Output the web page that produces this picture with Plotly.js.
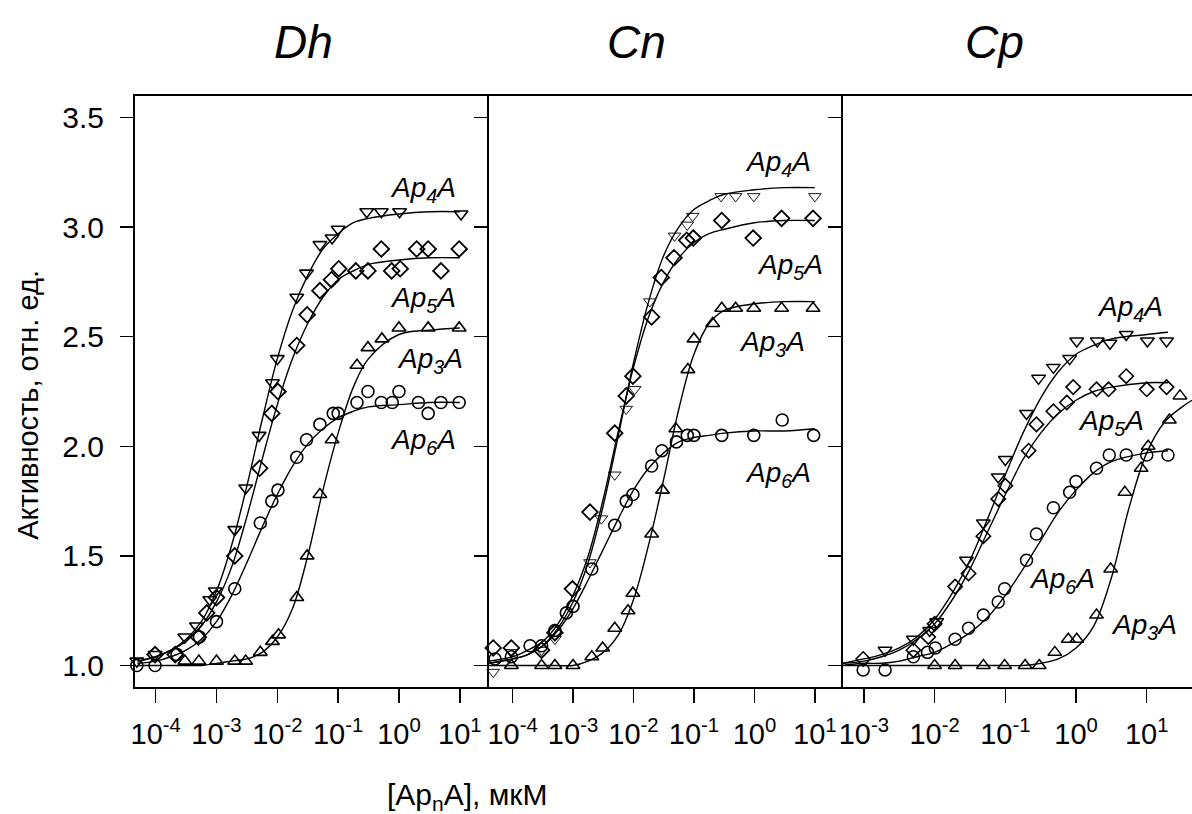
<!DOCTYPE html>
<html>
<head>
<meta charset="utf-8">
<script src="https://cdn.plot.ly/plotly-3.0.1.min.js"></script>
<style>html,body{margin:0;padding:0;background:#fff;}#chart{width:1192px;height:814px;}</style>
</head>
<body>
<div id="chart"></div>
<script>
// ---- Data (log10 of concentration in µM, activity in rel. units) ----
// Panel Dh
const dh_ap4_lg = [-4.31,-4.01,-3.52,-3.33,-3.11,-3.02,-2.70,-2.52,-2.30,-2.08,-2.00,-1.68,-1.52,-1.30,-1.10,-1.00,-0.53,-0.29,0.01,1.02];
const dh_ap4_y  = [1.02,1.05,1.13,1.18,1.30,1.34,1.62,1.81,2.05,2.29,2.40,2.68,2.79,2.92,2.95,2.99,3.07,3.07,3.07,3.06];
const dh_ap5_lg = [-4.01,-3.68,-3.30,-3.16,-3.00,-2.70,-2.29,-2.09,-1.99,-1.68,-1.51,-1.30,-1.11,-0.99,-0.71,-0.51,-0.29,-0.12,0.02,0.29,0.48,0.69,0.99];
const dh_ap5_y  = [1.05,1.05,1.13,1.24,1.31,1.50,1.90,2.15,2.25,2.46,2.60,2.71,2.76,2.81,2.80,2.80,2.90,2.80,2.81,2.90,2.90,2.80,2.90];
const dh_ap3_lg = [-3.52,-3.29,-3.00,-2.70,-2.52,-2.28,-2.08,-1.98,-1.68,-1.51,-1.30,-1.10,-0.69,-0.51,-0.28,0.00,0.48,0.99];
const dh_ap3_y  = [1.02,1.02,1.02,1.02,1.02,1.06,1.11,1.14,1.31,1.50,1.78,2.03,2.37,2.45,2.49,2.54,2.54,2.54];
const dh_ap6_lg = [-4.31,-4.01,-3.65,-3.28,-3.00,-2.70,-2.28,-2.09,-1.99,-1.68,-1.52,-1.30,-1.08,-1.00,-0.69,-0.51,-0.29,-0.11,0.00,0.32,0.48,0.69,0.99];
const dh_ap6_y  = [1.00,1.00,1.05,1.13,1.20,1.35,1.65,1.75,1.80,1.95,2.03,2.10,2.15,2.15,2.20,2.25,2.20,2.20,2.25,2.20,2.15,2.20,2.20];
// fitted curves, Dh
const dh_fit_lg   = [-4.3,-4,-3.75,-3.5,-3.25,-3,-2.75,-2.5,-2.25,-2,-1.75,-1.5,-1.25,-1,-0.75,-0.5,0,0.5,1];
const dh_fit_ap4  = [1.02,1.04,1.07,1.12,1.20,1.34,1.55,1.82,2.12,2.40,2.62,2.78,2.90,2.97,3.02,3.04,3.06,3.07,3.07];
const dh_fit_ap5  = [1.02,1.04,1.07,1.11,1.18,1.29,1.45,1.68,1.94,2.19,2.40,2.56,2.68,2.76,2.80,2.83,2.85,2.86,2.86];
const dh_fit_ap3  = [1.00,1.00,1.00,1.00,1.00,1.01,1.02,1.03,1.06,1.13,1.26,1.50,1.80,2.06,2.27,2.40,2.51,2.53,2.54];
const dh_fit_ap6  = [1.01,1.02,1.04,1.07,1.12,1.20,1.32,1.47,1.63,1.78,1.91,2.01,2.08,2.13,2.16,2.18,2.19,2.20,2.20];

// Panel Cn
const cn_ap4_lg = [-4.32,-4.02,-3.52,-3.30,-2.72,-2.53,-2.31,-2.12,-1.98,-1.73,-1.32,-1.11,-1.02,-0.55,-0.31,-0.01,1.00];
const cn_ap4_y  = [0.97,1.06,1.07,1.12,1.47,1.67,1.87,2.17,2.26,2.66,2.96,3.01,3.05,3.14,3.14,3.14,3.14];
const cn_ap5_lg = [-4.32,-4.02,-3.52,-3.30,-3.01,-2.72,-2.31,-2.12,-2.01,-1.70,-1.54,-1.33,-1.12,-1.01,-0.54,-0.02,0.45,0.97];
const cn_ap5_y  = [1.08,1.08,1.07,1.15,1.35,1.70,2.06,2.23,2.32,2.59,2.77,2.86,2.94,2.95,3.03,2.95,3.04,3.04];
const cn_ap3_lg = [-4.02,-3.52,-3.30,-3.00,-2.69,-2.51,-2.31,-2.09,-2.01,-1.70,-1.52,-1.30,-1.10,-1.00,-0.69,-0.54,-0.31,-0.01,0.45,0.97];
const cn_ap3_y  = [1.00,1.00,1.00,1.00,1.04,1.08,1.17,1.25,1.33,1.60,1.80,2.08,2.35,2.49,2.56,2.63,2.63,2.63,2.63,2.63];
const cn_ap6_lg = [-4.29,-4.02,-3.71,-3.52,-3.30,-3.11,-3.00,-2.69,-2.31,-2.12,-2.01,-1.70,-1.53,-1.29,-1.11,-1.00,-0.54,-0.01,0.46,0.98];
const cn_ap6_y  = [1.03,1.04,1.09,1.09,1.16,1.24,1.27,1.44,1.64,1.75,1.78,1.91,1.98,2.02,2.05,2.05,2.05,2.05,2.12,2.05];
// fitted curves, Cn
const cn_fit_lg   = [-4.4,-4,-3.75,-3.5,-3.25,-3,-2.75,-2.5,-2.25,-2,-1.75,-1.5,-1.25,-1,-0.75,-0.5,0,0.5,1];
const cn_fit_ap4  = [1.01,1.03,1.05,1.09,1.17,1.29,1.47,1.73,2.05,2.38,2.66,2.87,3.00,3.08,3.12,3.15,3.17,3.18,3.18];
const cn_fit_ap5  = [1.02,1.04,1.07,1.11,1.19,1.32,1.50,1.76,2.07,2.36,2.59,2.75,2.86,2.93,2.97,2.99,3.02,3.03,3.03];
const cn_fit_ap3  = [1.00,1.00,1.00,1.00,1.00,1.00,1.02,1.06,1.14,1.30,1.55,1.85,2.17,2.42,2.56,2.62,2.65,2.66,2.66];
const cn_fit_ap6  = [1.01,1.03,1.05,1.09,1.16,1.26,1.39,1.53,1.67,1.80,1.90,1.97,2.02,2.04,2.05,2.06,2.07,2.07,2.08];

// Panel Cp
const cp_ap4_lg = [-2.70,-2.30,-2.07,-1.97,-1.55,-1.31,-1.10,-1.00,-0.70,-0.53,-0.32,-0.09,0.01,0.30,0.48,0.71,1.01,1.28];
const cp_ap4_y  = [1.07,1.12,1.16,1.20,1.48,1.65,1.86,1.94,2.15,2.31,2.36,2.40,2.48,2.48,2.47,2.51,2.48,2.48];
const cp_ap5_lg = [-3.01,-2.30,-2.09,-2.00,-1.71,-1.52,-1.31,-1.10,-1.00,-0.67,-0.56,-0.32,-0.13,-0.04,0.29,0.46,0.71,1.00,1.28];
const cp_ap5_y  = [1.03,1.07,1.13,1.19,1.36,1.42,1.59,1.76,1.82,1.98,2.10,2.16,2.20,2.27,2.26,2.26,2.32,2.26,2.27];
const cp_ap6_lg = [-3.01,-2.70,-2.30,-2.10,-1.99,-1.71,-1.52,-1.31,-1.10,-1.01,-0.70,-0.56,-0.32,-0.09,0.00,0.29,0.47,0.71,1.00,1.30];
const cp_ap6_y  = [0.98,0.98,1.04,1.06,1.08,1.12,1.17,1.23,1.29,1.35,1.48,1.60,1.72,1.79,1.84,1.90,1.96,1.96,1.96,1.96];
const cp_ap3_lg = [-2.00,-1.71,-1.31,-1.01,-0.72,-0.52,-0.30,-0.11,0.01,0.29,0.49,0.69,0.92,1.02,1.32,1.47];
const cp_ap3_y  = [1.00,1.00,1.00,1.00,1.00,1.00,1.06,1.12,1.12,1.23,1.44,1.79,1.90,2.00,2.12,2.23];
// fitted curves, Cp
const cp_fit_lg   = [-3.3,-3,-2.75,-2.5,-2.25,-2,-1.75,-1.5,-1.25,-1,-0.75,-0.5,-0.25,0,0.25,0.5,1,1.3];
const cp_fit_ap4  = [1.01,1.03,1.05,1.08,1.13,1.21,1.33,1.48,1.67,1.87,2.06,2.22,2.34,2.42,2.46,2.49,2.51,2.52];
const cp_fit_ap5  = [1.01,1.02,1.04,1.07,1.12,1.19,1.30,1.44,1.61,1.78,1.94,2.06,2.15,2.21,2.25,2.27,2.29,2.29];
const cp_fit_ap6  = [1.00,1.01,1.01,1.02,1.04,1.06,1.10,1.15,1.22,1.32,1.44,1.57,1.70,1.80,1.88,1.93,1.97,1.98];
const cp_fit3_lg  = [-3.3,-2,-1.5,-1,-0.75,-0.5,-0.25,0,0.25,0.5,0.75,1,1.25,1.5,1.64];
const cp_fit_ap3  = [1.00,1.00,1.00,1.00,1.00,1.01,1.03,1.08,1.18,1.40,1.72,1.97,2.11,2.18,2.21];

// Tick labels
const panelTitles = ["Dh", "Cn", "Cp"];
const xTickVals12 = [1e-4, 1e-3, 1e-2, 1e-1, 1e0, 1e1];
const xTickText12 = ["10<sup>-4</sup>","10<sup>-3</sup>","10<sup>-2</sup>","10<sup>-1</sup>","10<sup>0</sup>","10<sup>1</sup>"];
const xTickVals3  = [1e-3, 1e-2, 1e-1, 1e0, 1e1];
const xTickText3  = ["10<sup>-3</sup>","10<sup>-2</sup>","10<sup>-1</sup>","10<sup>0</sup>","10<sup>1</sup>"];
const yTickVals   = [1.0, 1.5, 2.0, 2.5, 3.0, 3.5];
const yTickText   = ["1.0","1.5","2.0","2.5","3.0","3.5"];

// ---- Build traces ----
const toX = a => a.map(v => Math.pow(10, v));
const FONT = "Liberation Sans, Arial, sans-serif";

function pts(lg, y, sym, xa, ya, size, lw) {
  return {x: toX(lg), y: y, xaxis: xa, yaxis: ya, type: "scatter", mode: "markers",
    cliponaxis: false, showlegend: false, hoverinfo: "skip",
    marker: {symbol: sym, size: size, color: "#000", line: {color: "#000", width: lw}}};
}
function curve(lg, y, xa, ya) {
  return {x: toX(lg), y: y, xaxis: xa, yaxis: ya, type: "scatter", mode: "lines",
    showlegend: false, hoverinfo: "skip", line: {color: "#000", width: 1.4, shape: "spline", smoothing: 1}};
}

const traces = [
  curve(dh_fit_lg, dh_fit_ap4, "x", "y"), curve(dh_fit_lg, dh_fit_ap5, "x", "y"),
  curve(dh_fit_lg, dh_fit_ap3, "x", "y"), curve(dh_fit_lg, dh_fit_ap6, "x", "y"),
  pts(dh_ap4_lg, dh_ap4_y, "triangle-down-open", "x", "y", 12, 1.6),
  pts(dh_ap5_lg, dh_ap5_y, "diamond-open", "x", "y", 12, 1.8),
  pts(dh_ap3_lg, dh_ap3_y, "triangle-up-open", "x", "y", 12, 1.6),
  pts(dh_ap6_lg, dh_ap6_y, "circle-open", "x", "y", 12, 1.6),

  curve(cn_fit_lg, cn_fit_ap4, "x2", "y2"), curve(cn_fit_lg, cn_fit_ap5, "x2", "y2"),
  curve(cn_fit_lg, cn_fit_ap3, "x2", "y2"), curve(cn_fit_lg, cn_fit_ap6, "x2", "y2"),
  pts(cn_ap4_lg, cn_ap4_y, "triangle-down-open", "x2", "y2", 11, 0.9),
  pts(cn_ap5_lg, cn_ap5_y, "diamond-open", "x2", "y2", 12, 1.8),
  pts(cn_ap3_lg, cn_ap3_y, "triangle-up-open", "x2", "y2", 12, 1.6),
  pts(cn_ap6_lg, cn_ap6_y, "circle-open", "x2", "y2", 12, 1.6),

  curve(cp_fit_lg, cp_fit_ap4, "x3", "y3"), curve(cp_fit_lg, cp_fit_ap5, "x3", "y3"),
  curve(cp_fit3_lg, cp_fit_ap3, "x3", "y3"), curve(cp_fit_lg, cp_fit_ap6, "x3", "y3"),
  pts(cp_ap4_lg, cp_ap4_y, "triangle-down-open", "x3", "y3", 12, 1.5),
  pts(cp_ap5_lg, cp_ap5_y, "diamond-open", "x3", "y3", 11, 1.6),
  pts(cp_ap3_lg, cp_ap3_y, "triangle-up-open", "x3", "y3", 12, 1.5),
  pts(cp_ap6_lg, cp_ap6_y, "circle-open", "x3", "y3", 12, 1.5)
];

// ---- Layout ----
function xax(domain, range, vals, text, anchor) {
  return {domain: domain, type: "log", range: range, anchor: anchor,
    showline: true, linecolor: "#000", linewidth: 2, mirror: true,
    ticks: "outside", ticklen: 14, tickwidth: 1.5, tickcolor: "#000",
    tickmode: "array", tickvals: vals, ticktext: text, ticklabelstandoff: 6,
    tickfont: {family: FONT, size: 29, color: "#000"},
    showgrid: false, zeroline: false, fixedrange: true};
}
function yax(anchor, labels) {
  return {range: [0.902, 3.598], anchor: anchor,
    showline: true, linecolor: "#000", linewidth: 2, mirror: false,
    ticks: "outside", ticklen: 13, tickwidth: 1.5, tickcolor: "#000",
    tickmode: "array", tickvals: yTickVals, ticktext: yTickText,
    showticklabels: labels, ticklabelstandoff: 10,
    tickfont: {family: FONT, size: 30, color: "#000"},
    showgrid: false, zeroline: false, fixedrange: true};
}

const labFont = {family: FONT, size: 28, color: "#000"};
function lab(text, xref, yref, x, y) {
  return {text: "<i>" + text + "</i>", xref: xref, yref: yref, x: x, y: y,
    showarrow: false, font: labFont, xanchor: "center", yanchor: "middle"};
}
const titleFont = {family: FONT, size: 46, color: "#000"};

const annotations = [
  // panel titles
  {text: "<i>" + panelTitles[0] + "</i>", xref: "paper", yref: "paper", x: 0.159, y: 1.092, showarrow: false,
   font: titleFont, xanchor: "center", yanchor: "middle"},
  {text: "<i>" + panelTitles[1] + "</i>", xref: "paper", yref: "paper", x: 0.474, y: 1.092, showarrow: false,
   font: titleFont, xanchor: "center", yanchor: "middle"},
  {text: "<i>" + panelTitles[2] + "</i>", xref: "paper", yref: "paper", x: 0.813, y: 1.092, showarrow: false,
   font: titleFont, xanchor: "center", yanchor: "middle"},
  // axis titles
  {text: "[Ap<sub>n</sub>A], мкМ", xref: "paper", yref: "paper", x: 0.314, y: -0.185, showarrow: false,
   font: {family: FONT, size: 30, color: "#000"}, xanchor: "center", yanchor: "middle"},
  {text: "Активность, отн. ед.", xref: "paper", yref: "paper", x: -0.1015, y: 0.477, showarrow: false,
   textangle: -90, font: {family: FONT, size: 29, color: "#000"}, xanchor: "center", yanchor: "middle"},
  // curve labels, Dh
  lab("Ap<sub>4</sub>A", "x", "y", 0.40, 3.17),
  lab("Ap<sub>5</sub>A", "x", "y", 0.40, 2.67),
  lab("Ap<sub>3</sub>A", "x", "y", 0.51, 2.39),
  lab("Ap<sub>6</sub>A", "x", "y", 0.40, 2.02),
  // Cn
  lab("Ap<sub>4</sub>A", "x2", "y2", 0.385, 3.29),
  lab("Ap<sub>5</sub>A", "x2", "y2", 0.585, 2.82),
  lab("Ap<sub>3</sub>A", "x2", "y2", 0.29, 2.47),
  lab("Ap<sub>6</sub>A", "x2", "y2", 0.385, 1.87),
  // Cp
  lab("Ap<sub>4</sub>A", "x3", "y3", 0.77, 2.63),
  lab("Ap<sub>5</sub>A", "x3", "y3", 0.49, 2.11),
  lab("Ap<sub>6</sub>A", "x3", "y3", -0.20, 1.39),
  lab("Ap<sub>3</sub>A", "x3", "y3", 0.96, 1.18)
];

const layout = {
  width: 1192, height: 814,
  margin: {l: 135, r: 0, t: 96, b: 127, pad: 0},
  paper_bgcolor: "#fff", plot_bgcolor: "#fff",
  showlegend: false,
  font: {family: FONT, color: "#000"},
  xaxis:  xax([0, 0.3349], [-4.34, 1.48], xTickVals12, xTickText12, "y"),
  xaxis2: xax([0.3349, 0.6695], [-4.39, 1.46], xTickVals12, xTickText12, "y2"),
  xaxis3: xax([0.6695, 1], [-3.30, 1.64], xTickVals3, xTickText3, "y3"),
  yaxis:  yax("x", true),
  yaxis2: yax("x2", false),
  yaxis3: yax("x3", false),
  annotations: annotations
};

Plotly.newPlot("chart", traces, layout, {staticPlot: true, displayModeBar: false});
</script>
</body>
</html>
